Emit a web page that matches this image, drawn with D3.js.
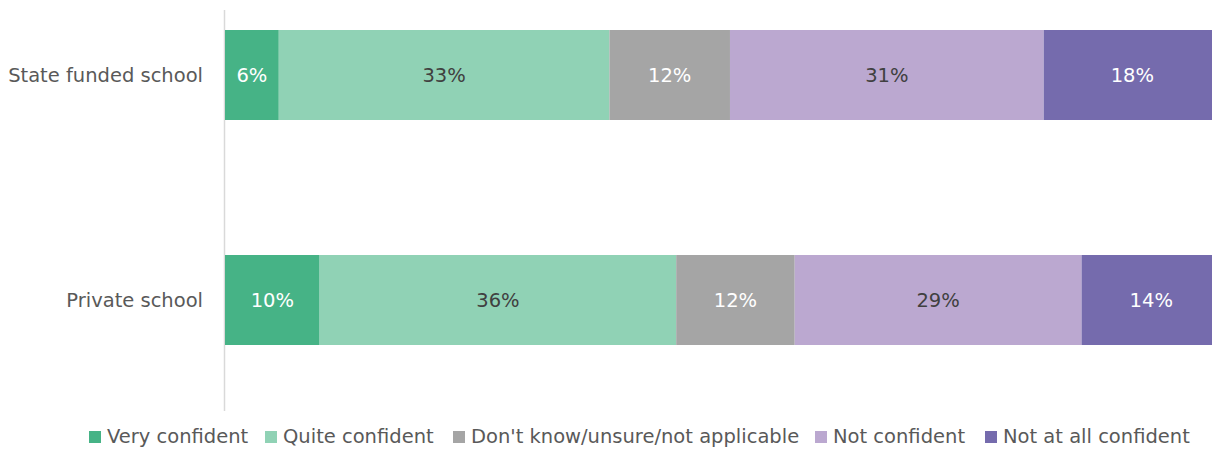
<!DOCTYPE html>
<html>
<head>
<meta charset="utf-8">
<script src="https://cdn.jsdelivr.net/npm/d3@7"></script>
<style>
  body { margin: 0; background: #fff; }
  svg { display: block; font-family: "DejaVu Sans", sans-serif; }
</style>
</head>
<body>
<div id="chart"></div>
<script>
const categories = ['State funded school', 'Private school'];
const seriesNames = ['Very confident', 'Quite confident', "Don't know/unsure/not applicable", 'Not confident', 'Not at all confident'];
const colors = ['#46b386', '#90d2b5', '#a5a5a5', '#bba8d0', '#756bad'];
const labelColors = ['#ffffff', '#404040', '#ffffff', '#404040', '#ffffff'];
// percentages per category, in series order
const stateValues = [5.4, 33.2, 12.1, 31.5, 17.8];
const privateValues = [9.5, 35.8, 11.9, 28.8, 14.0];
const stateLabels = ['6%', '33%', '12%', '31%', '18%'];
const privateLabels = ['10%', '36%', '12%', '29%', '14%'];

const width = 1212;
const height = 450;

const rows = [
  { name: categories[0], values: stateValues, labels: stateLabels },
  { name: categories[1], values: privateValues, labels: privateLabels }
];

const svg = d3.select('#chart').append('svg')
  .attr('width', width)
  .attr('height', height);

const x = d3.scaleLinear().domain([0, 100]).range([225, 1221]);
const y = d3.scaleBand().domain(categories).range([-37.5, 412.5]).paddingInner(0.6).paddingOuter(0.3);

// axis line
svg.append('line')
  .attr('x1', 224.5).attr('x2', 224.5)
  .attr('y1', 10).attr('y2', 411)
  .attr('stroke', '#d9d9d9')
  .attr('stroke-width', 1.5);

rows.forEach(row => {
  let acc = 0;
  const segs = row.values.map((v, i) => {
    const s = { start: acc, end: acc + v, i, label: row.labels[i] };
    acc += v;
    return s;
  });
  const g = svg.append('g');
  g.selectAll('rect')
    .data(segs)
    .join('rect')
    .attr('x', d => x(d.start))
    .attr('width', d => x(d.end) - x(d.start))
    .attr('y', y(row.name))
    .attr('height', y.bandwidth())
    .attr('fill', d => colors[d.i]);
  g.selectAll('text')
    .data(segs)
    .join('text')
    .attr('x', d => (x(d.start) + x(d.end)) / 2)
    .attr('y', y(row.name) + y.bandwidth() / 2)
    .attr('dy', '0.35em')
    .attr('text-anchor', 'middle')
    .attr('font-size', 19.5)
    .attr('fill', d => labelColors[d.i])
    .text(d => d.label);

  svg.append('text')
    .attr('x', 203)
    .attr('y', y(row.name) + y.bandwidth() / 2)
    .attr('dy', '0.35em')
    .attr('text-anchor', 'end')
    .attr('font-size', 19.5)
    .attr('fill', '#595959')
    .text(row.name);
});

// legend
const legendX = [89, 265, 453, 815, 985];
const legend = svg.append('g');
const items = legend.selectAll('g')
  .data(seriesNames)
  .join('g')
  .attr('transform', (d, i) => `translate(${legendX[i]},436)`);
items.append('rect')
  .attr('x', 0).attr('y', -5)
  .attr('width', 12).attr('height', 12)
  .attr('fill', (d, i) => colors[i]);
items.append('text')
  .attr('x', 18)
  .attr('dy', '0.35em')
  .attr('font-size', 19.5)
  .attr('fill', '#595959')
  .text(d => d);
</script>
</body>
</html>
